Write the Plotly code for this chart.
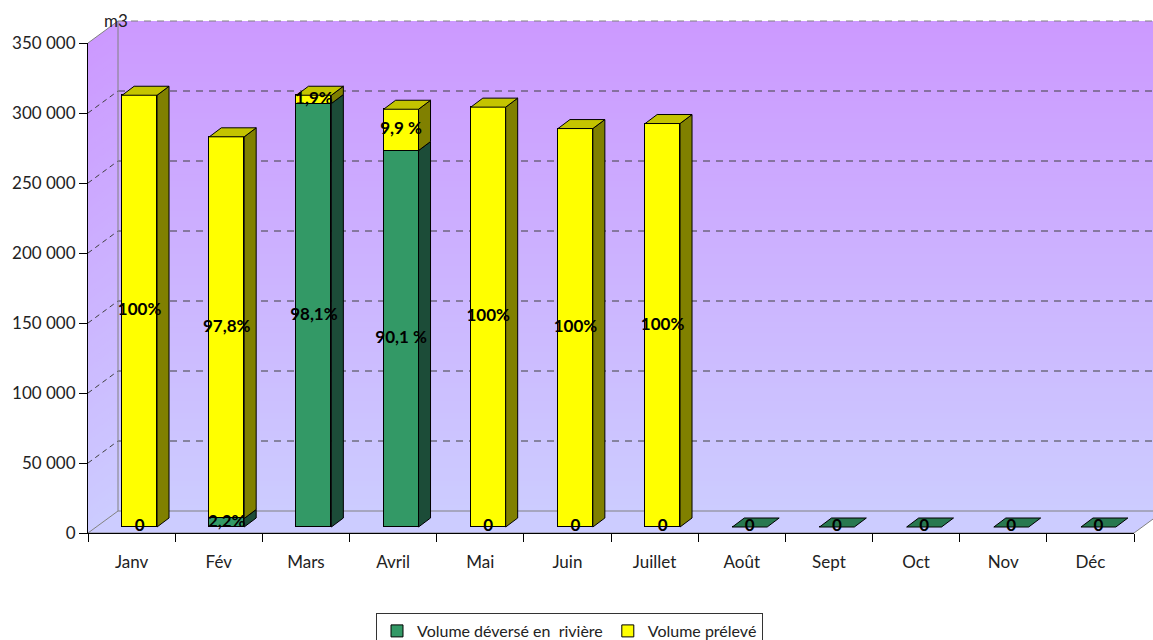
import plotly.graph_objects as go

# ---------------- data ----------------
months = ["Janv", "Fév", "Mars", "Avril", "Mai", "Juin", "Juillet",
          "Août", "Sept", "Oct", "Nov", "Déc"]
deverse = [0, 6100, 302500, 268900, 0, 0, 0, 0, 0, 0, 0, 0]
preleve = [308400, 272600, 5900, 29500, 299900, 284600, 288200,
           None, None, None, None, None]
deverse_labels = ["0", "2,2%", "98,1%", "90,1 %", "0", "0", "0",
                  "0", "0", "0", "0", "0"]
preleve_labels = ["100%", "97,8%", "1,9%", "9,9 %", "100%", "100%", "100%",
                  "", "", "", "", ""]
y_tickvals = [0, 50000, 100000, 150000, 200000, 250000, 300000, 350000]
y_ticktext = ["0", "50 000", "100 000", "150 000", "200 000",
              "250 000", "300 000", "350 000"]
name_deverse = "Volume déversé en\u00a0 rivière"
name_preleve = "Volume prélevé"
unit_label = "m3"

# ---------------- geometry / style ----------------
W, H = 1153, 640
ML, MR, MT, MB = 88, 19, 43, 107
PW, PH = W - ML - MR, H - MT - MB
YMAX = 350000
NCAT = len(months)
px_cat = PW / NCAT
px_val = PH / YMAX
WALL = (30, 22)        # depth offset of back wall (px)
BAR_FRONT = (8, 6)     # offset of bar front faces (px)
BAR_DEPTH = (12, 9)    # depth of the bars (px)
BAR_W = 0.4

FONT = "Lato"
TXT = "#222222"
GREEN, GREEN_TOP, GREEN_SIDE = "#339966", "#287850", "#1C4C38"
YEL, YEL_TOP, YEL_SIDE = "#FFFF00", "#C4C400", "#808000"

fig = go.Figure()

# invisible trace to anchor main axes
fig.add_trace(go.Scatter(x=[None], y=[None], showlegend=False, hoverinfo="skip"))

# bars (front faces)
fig.add_trace(go.Bar(x=list(range(NCAT)), y=deverse, name=name_deverse,
                     marker=dict(color=GREEN, line=dict(color="black", width=1)),
                     width=BAR_W, xaxis="x2", yaxis="y2", hoverinfo="skip"))
fig.add_trace(go.Bar(x=list(range(NCAT)), y=preleve, name=name_preleve,
                     marker=dict(color=YEL, line=dict(color="black", width=1)),
                     width=BAR_W, xaxis="x2", yaxis="y2", hoverinfo="skip"))

# 3D faces
dxc = BAR_DEPTH[0] / px_cat
dyv = BAR_DEPTH[1] / px_val
half = BAR_W / 2
faces = {k: ([], []) for k in ["gs", "ys", "gt", "yt"]}


def add_poly(key, pts):
    xs, ys = faces[key]
    for (a, b) in pts + [pts[0]]:
        xs.append(a)
        ys.append(b)
    xs.append(None)
    ys.append(None)


lab_x, lab_y, lab_t = [], [], []
for i in range(NCAT):
    g = deverse[i] or 0
    y = preleve[i]
    if g > 0:
        add_poly("gs", [(i + half, 0), (i + half + dxc, dyv),
                        (i + half + dxc, g + dyv), (i + half, g)])
    lab_x.append(i); lab_y.append(g / 2); lab_t.append(deverse_labels[i])
    top_key, top = "gt", g
    if y is not None and y > 0:
        add_poly("ys", [(i + half, g), (i + half + dxc, g + dyv),
                        (i + half + dxc, g + y + dyv), (i + half, g + y)])
        top_key, top = "yt", g + y
        lab_x.append(i); lab_y.append(g + y / 2); lab_t.append(preleve_labels[i])
    add_poly(top_key, [(i - half, top), (i + half, top),
                       (i + half + dxc, top + dyv), (i - half + dxc, top + dyv)])

for key, col in [("gs", GREEN_SIDE), ("ys", YEL_SIDE), ("gt", GREEN_TOP), ("yt", YEL_TOP)]:
    xs, ys = faces[key]
    if xs:
        fig.add_trace(go.Scatter(x=xs, y=ys, mode="lines", fill="toself",
                                 fillcolor=col, line=dict(color="black", width=1),
                                 xaxis="x2", yaxis="y2", showlegend=False,
                                 hoverinfo="skip"))

# data labels
fig.add_trace(go.Scatter(x=lab_x, y=lab_y, text=lab_t, mode="text",
                         textposition="middle center",
                         textfont=dict(family=FONT, size=17, color="black", weight="bold"),
                         xaxis="x2", yaxis="y2", showlegend=False, hoverinfo="skip",
                         cliponaxis=False))

# ---------------- walls / floor (paper coords) ----------------
wx, wy = WALL[0] / PW, WALL[1] / PH
shapes = []
N = 80
for k in range(N):
    f0 = k / N
    f1 = min((k + 1) / N + 0.002, 1)
    fm = (k + 0.5) / N
    gch = round(204 - 51 * fm)
    col = f"rgb(204,{gch},255)"
    path = (f"M0,{f0} L{wx},{f0 + wy} L{1 + wx},{f0 + wy} L{1 + wx},{f1 + wy} "
            f"L{wx},{f1 + wy} L0,{f1} Z")
    shapes.append(dict(type="path", path=path, xref="paper", yref="paper",
                       fillcolor=col, line=dict(width=0), layer="below"))
# floor
shapes.append(dict(type="path", path=f"M0,0 L1,0 L{1 + wx},{wy} L{wx},{wy} Z",
                   xref="paper", yref="paper", fillcolor="#CCCCFF",
                   line=dict(color="#808080", width=1), layer="below"))
# gridlines on back wall and side wall
for v in y_tickvals[1:-1]:
    f = v / YMAX
    shapes.append(dict(type="line", xref="paper", yref="paper", x0=wx, x1=1 + wx,
                       y0=f + wy, y1=f + wy, layer="below",
                       line=dict(color="#404040", width=1, dash="7px,6px")))
    shapes.append(dict(type="line", xref="paper", yref="paper", x0=0, x1=wx,
                       y0=f, y1=f + wy, layer="below",
                       line=dict(color="#404040", width=1, dash="5px,4px")))
# top edge of back wall
shapes.append(dict(type="line", xref="paper", yref="paper", x0=wx, x1=1 + wx,
                   y0=1 + wy, y1=1 + wy, layer="below",
                   line=dict(color="#808080", width=1, dash="7px,6px")))
# wall edges
for (x0, y0, x1, y1) in [(wx, wy, wx, 1 + wy), (0, 1, wx, 1 + wy)]:
    shapes.append(dict(type="line", xref="paper", yref="paper", x0=x0, y0=y0,
                       x1=x1, y1=y1, layer="below",
                       line=dict(color="#808080", width=1)))

fig.update_layout(
    width=W, height=H,
    margin=dict(l=ML, r=MR, t=MT, b=MB, pad=0, autoexpand=False),
    paper_bgcolor="white", plot_bgcolor="rgba(0,0,0,0)",
    barmode="stack", bargap=0,
    shapes=shapes,
    font=dict(family=FONT, size=17, color=TXT),
    xaxis=dict(range=[-0.5, NCAT - 0.5], tickvals=list(range(NCAT)), ticktext=months,
               ticks="outside", ticklen=8, tickcolor="rgba(0,0,0,0)",
               ticklabelstandoff=6, automargin=False,
               showline=True, linecolor="black", linewidth=1,
               showgrid=False, zeroline=False,
               tickfont=dict(family=FONT, size=17, color=TXT),
               minor=dict(tickvals=[i - 0.5 for i in range(NCAT + 1)], ticks="outside",
                          ticklen=8, tickcolor="black", tickwidth=1, showgrid=False)),
    yaxis=dict(range=[0, YMAX], tickvals=y_tickvals, ticktext=y_ticktext,
               ticks="outside", ticklen=8, tickcolor="black", automargin=False,
               showline=True, linecolor="black", linewidth=1,
               showgrid=False, zeroline=False,
               tickfont=dict(family=FONT, size=17, color=TXT)),
    xaxis2=dict(overlaying="x", anchor="y2",
                range=[-0.5 - BAR_FRONT[0] / px_cat, NCAT - 0.5 - BAR_FRONT[0] / px_cat],
                visible=False),
    yaxis2=dict(overlaying="y", anchor="x2",
                range=[-BAR_FRONT[1] / px_val, YMAX - BAR_FRONT[1] / px_val],
                visible=False),
    legend=dict(orientation="h", x=(569.5 - ML) / PW, xanchor="center",
                y=-(613 - (H - MB)) / PH, yanchor="top",
                bordercolor="#333333", borderwidth=1, bgcolor="white",
                font=dict(family=FONT, size=16, color=TXT),
                traceorder="normal"),
    annotations=[dict(text=unit_label, xref="paper", yref="paper", x=wx, y=1 + wy,
                      xanchor="center", yanchor="middle", showarrow=False,
                      xshift=-2, font=dict(family=FONT, size=17, color=TXT))],
    showlegend=True,
)

fig.write_html("out.html", config={"displayModeBar": False},
               post_script="document.body.style.margin='0px';document.body.style.overflow='hidden';")
